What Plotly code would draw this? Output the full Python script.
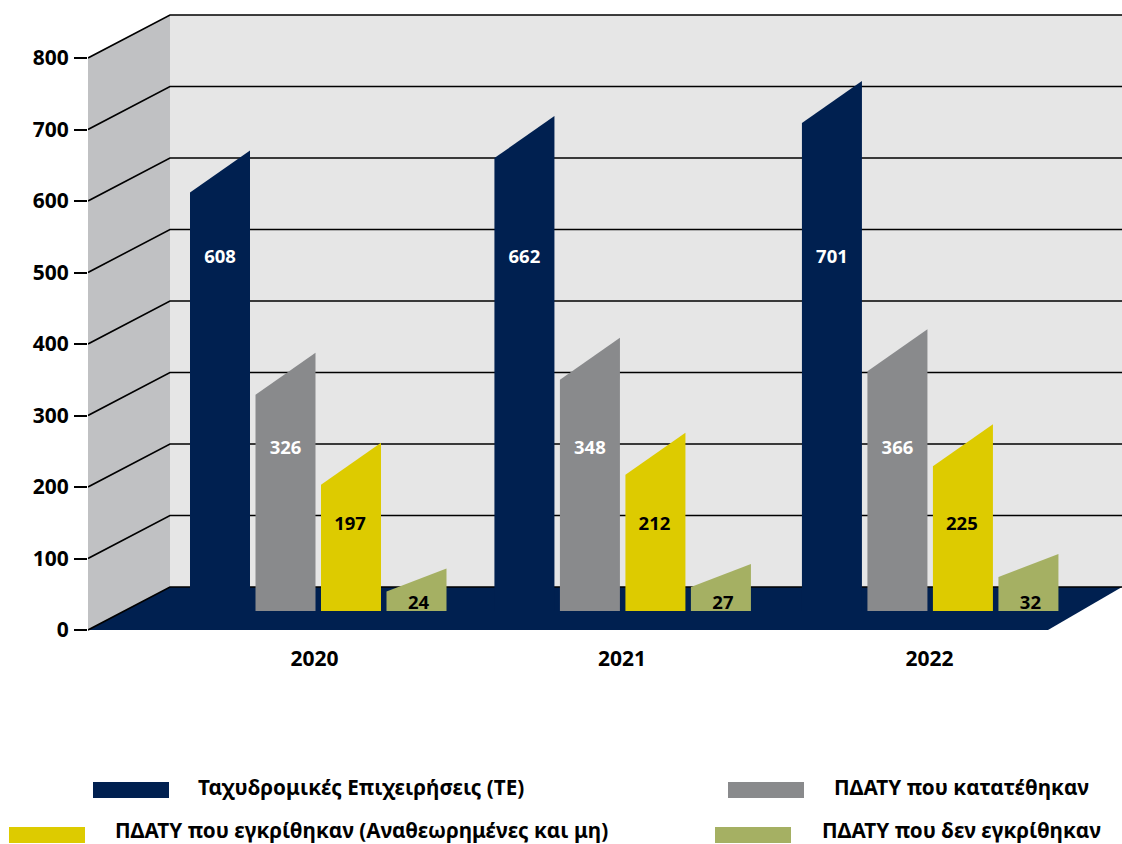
import plotly.graph_objects as go

# ---- data ----
years = ["2020", "2021", "2022"]
te = [608, 662, 701]
filed = [326, 348, 366]
approved = [197, 212, 225]
rejected = [24, 27, 32]
# drawn front-top heights of the bars, read against the y axis
te_drawn = [612, 660, 709]
filed_drawn = [329, 350, 362]
approved_drawn = [203, 217, 229]
rejected_drawn = [54, 60, 74]
group_pos = [0, 0.99, 1.99]
y_ticks = [0, 100, 200, 300, 400, 500, 600, 700, 800]
names = ["Ταχυδρομικές Επιχειρήσεις (ΤΕ)", "ΠΔΑΤΥ που κατατέθηκαν",
         "ΠΔΑΤΥ που εγκρίθηκαν (Αναθεωρημένες και μη)", "ΠΔΑΤΥ που δεν εγκρίθηκαν"]

# ---- geometry ----
W, H = 1122, 844
L, AXIS_B = 88, 640
PX_PER_CAT = 307.5
PX_PER_VAL = 0.715
X0_PX = 314.5
Y0_PX = 630
FONT = "Noto Sans"
NAVY, GREY, YELLOW, OLIVE = "#002050", "#898a8c", "#ddcb00", "#a5b063"


def ux(px):
    return px / PX_PER_CAT


def uy(px):
    return px / PX_PER_VAL


DX, DY = ux(82), uy(43)
x_left = (L - X0_PX) / PX_PER_CAT
x_right = (W - X0_PX) / PX_PER_CAT
y_top = Y0_PX / PX_PER_VAL
y_bottom = (Y0_PX - AXIS_B) / PX_PER_VAL
top_v = y_ticks[-1]

fig = go.Figure()


def poly(xs, ys, color):
    fig.add_trace(go.Scatter(x=xs, y=ys, mode="lines", fill="toself", fillcolor=color,
                             line=dict(width=0, color=color), hoverinfo="skip", showlegend=False))


# walls and floor
poly([x_left, x_left + DX, x_left + DX, x_left], [0, DY, top_v + DY, top_v], "#c0c1c3")
poly([x_left + DX, x_right, x_right, x_left + DX], [DY, DY, top_v + DY, top_v + DY], "#e6e6e6")
poly([x_left, x_left + DX, x_right, x_right - ux(74)], [0, DY, DY, 0], NAVY)

# grid lines running along the side wall and the back wall
gx, gy = [], []
for t in y_ticks:
    gx += [x_left, x_left + DX, x_right, None]
    gy += [t, t + DY, t + DY, None]
fig.add_trace(go.Scatter(x=gx, y=gy, mode="lines", line=dict(color="#000000", width=1.6),
                         hoverinfo="skip", showlegend=False))

# bars
series = [
    (te, te_drawn, NAVY, 42, "white", 520, 0),
    (filed, filed_drawn, GREY, 42, "white", 253, 0),
    (approved, approved_drawn, YELLOW, 42, "black", 147, -1),
    (rejected, rejected_drawn, OLIVE, 23, "black", 36, 2),
]
BAR_W = ux(60)
BAR_STEP = ux(65.5)
GROUP_OFF = ux(-124.5)
BASE = uy(19)
for i, (vals, drawn, col, slant, txt, lab_y, lab_dx) in enumerate(series):
    for j, pos in enumerate(group_pos):
        left = pos + GROUP_OFF + i * BAR_STEP
        right = left + BAR_W
        poly([left, left, right, right],
             [BASE, drawn[j], drawn[j] + uy(slant), BASE], col)
    fig.add_trace(go.Scatter(
        x=[p + GROUP_OFF + i * BAR_STEP + BAR_W / 2 + ux(lab_dx) for p in group_pos],
        y=[lab_y] * len(vals), mode="text", text=[str(v) for v in vals],
        textfont=dict(family=FONT, size=18.5, color=txt, weight="bold"),
        textposition="middle center", hoverinfo="skip", showlegend=False))


def px_x(px):
    return (px - L) / (W - L)


def px_y(py):
    return (AXIS_B - py) / AXIS_B


# legend built from paper-positioned swatches and real text
legend = [
    (names[0], NAVY, 93, 169, 361, 787, 790),
    (names[1], GREY, 728, 804, 961, 787, 790),
    (names[2], YELLOW, 9, 85, 361, 829.5, 835),
    (names[3], OLIVE, 715, 791, 961, 829.5, 835),
]
shapes, annos = [], []
for text, col, x0, x1, cx, cy, sy in legend:
    shapes.append(dict(type="rect", xref="paper", yref="paper", x0=px_x(x0), x1=px_x(x1),
                       y0=px_y(sy - 8), y1=px_y(sy + 8), fillcolor=col, line=dict(width=0),
                       layer="above"))
    annos.append(dict(xref="paper", yref="paper", x=px_x(cx), y=px_y(cy), text=text, showarrow=False,
                      xanchor="center", yanchor="middle",
                      font=dict(family=FONT, size=20.7, color="black", weight="bold")))

fig.update_layout(
    width=W, height=H, autosize=False,
    margin=dict(l=L, r=0, t=0, b=H - AXIS_B, pad=0),
    paper_bgcolor="white", plot_bgcolor="white", showlegend=False,
    shapes=shapes, annotations=annos,
    xaxis=dict(range=[x_left, x_right], tickmode="array", tickvals=[0, 1, 2], ticktext=years,
               showgrid=False, zeroline=False, showline=False, ticks="", fixedrange=True,
               ticklabelstandoff=4,
               tickfont=dict(family=FONT, size=21, color="black", weight="bold")),
    yaxis=dict(range=[y_bottom, y_top], tickmode="array", tickvals=y_ticks, showgrid=False,
               zeroline=False, showline=False, ticks="outside", ticklen=13, tickwidth=2,
               tickcolor="black", fixedrange=True, ticklabelstandoff=1,
               tickfont=dict(family=FONT, size=21, color="black", weight="bold")),
)

fig.write_html("out.html", config=dict(displayModeBar=False, responsive=False),
               post_script="document.body.style.margin='0';document.body.style.overflow='hidden';")
